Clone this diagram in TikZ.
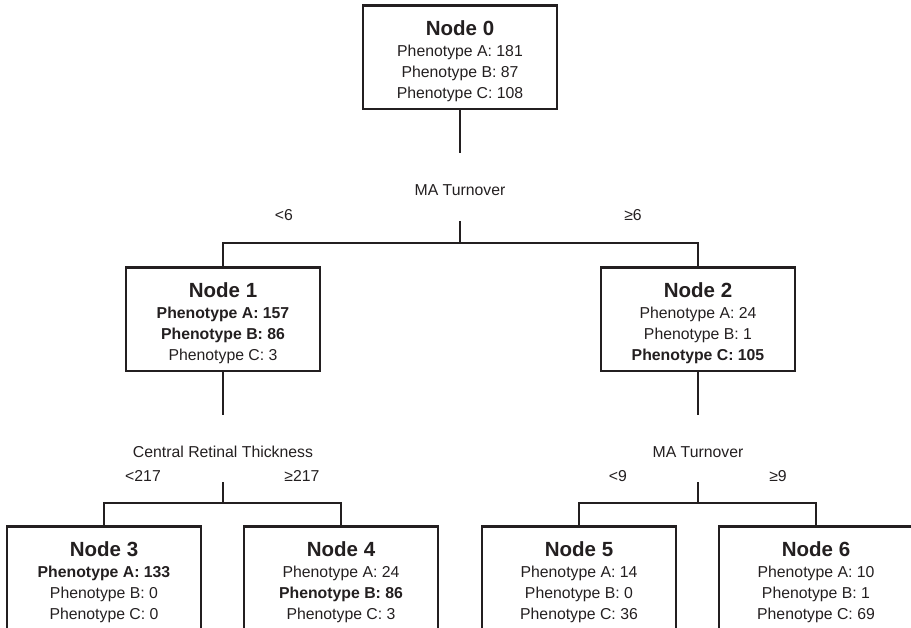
\documentclass[tikz,border=0pt]{standalone}
\usepackage{fontspec}
\setmainfont{Liberation Sans}
\definecolor{ink}{HTML}{231F20}
\newcommand{\nodetitle}[1]{{\fontsize{20.5}{21}\selectfont\bfseries\rule{0pt}{22.4pt}#1}}
\begin{document}
\begin{tikzpicture}[x=1pt,y=-1pt,
  box/.style={draw=ink,line width=2.6pt,align=center,minimum width=194pt,inner xsep=2pt,inner ysep=7.6pt,anchor=north,text=ink,font=\fontsize{15.8}{21}\selectfont},
  link/.style={draw=ink,line width=2.3pt},
  lab/.style={text=ink,inner sep=0pt,font=\fontsize{15.8}{19}\selectfont}]
\useasboundingbox (0,0) rectangle (911,628);
\clip (0,0) rectangle (911,628);
\node[box] (n0) at (460,4) {\nodetitle{Node 0}\\Phenotype A: 181\\Phenotype B: 87\\Phenotype C: 108};
\node[box] (n1) at (223,266) {\nodetitle{Node 1}\\\textbf{Phenotype A: 157}\\\textbf{Phenotype B: 86}\\Phenotype C: 3};
\node[box] (n2) at (698,266) {\nodetitle{Node 2}\\Phenotype A: 24\\Phenotype B: 1\\\textbf{Phenotype C: 105}};
\node[box] (n3) at (104,525) {\nodetitle{Node 3}\\\textbf{Phenotype A: 133}\\Phenotype B: 0\\Phenotype C: 0};
\node[box] (n4) at (341,525) {\nodetitle{Node 4}\\Phenotype A: 24\\\textbf{Phenotype B: 86}\\Phenotype C: 3};
\node[box] (n5) at (579,525) {\nodetitle{Node 5}\\Phenotype A: 14\\Phenotype B: 0\\Phenotype C: 36};
\node[box] (n6) at (816,525) {\nodetitle{Node 6}\\Phenotype A: 10\\Phenotype B: 1\\Phenotype C: 69};
\node[lab] (s0) at (460,190) {MA Turnover};
\node[lab] (s0l) at (284,215) {<6};
\node[lab] (s0r) at (633,215) {≥6};
\node[lab] (s1) at (223,452) {Central Retinal Thickness};
\node[lab] (s1l) at (143,476) {<217};
\node[lab] (s1r) at (302,476) {≥217};
\node[lab] (s2) at (698,452) {MA Turnover};
\node[lab] (s2l) at (618,476) {<9};
\node[lab] (s2r) at (778,476) {≥9};
\coordinate (d0) at (460,153);
\coordinate (j0) at (460,221);
\coordinate (k0) at (460,243);
\coordinate (d1) at (223,415);
\coordinate (j1) at (223,482);
\coordinate (k1) at (223,503);
\coordinate (d2) at (698,415);
\coordinate (j2) at (698,482);
\coordinate (k2) at (698,503);
\draw[link] (n0) -- (d0);
\draw[link] (j0) -- (k0);
\draw[link] (n1) |- (k0) -| (n2);
\draw[link] (n1) -- (d1);
\draw[link] (j1) -- (k1);
\draw[link] (n3) |- (k1) -| (n4);
\draw[link] (n2) -- (d2);
\draw[link] (j2) -- (k2);
\draw[link] (n5) |- (k2) -| (n6);
\end{tikzpicture}
\end{document}
